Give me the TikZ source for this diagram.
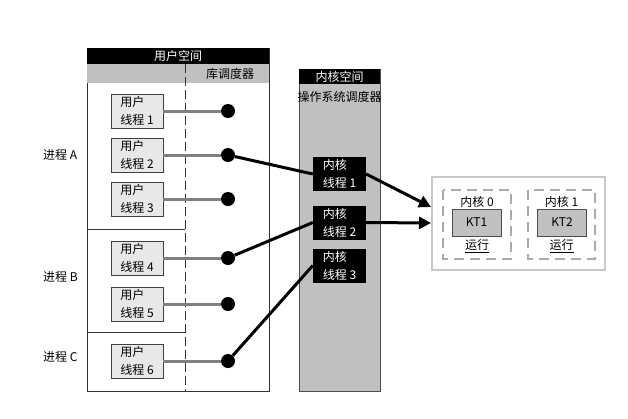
\documentclass[tikz,border=0pt]{standalone}
\usepackage{fontspec}
\newfontfamily\cjk{Noto Sans CJK SC}
\usetikzlibrary{arrows.meta}
\definecolor{panelgray}{RGB}{192,192,192}
\definecolor{boxgray}{RGB}{232,232,232}
\definecolor{linkgray}{RGB}{128,128,128}
\definecolor{framegray}{RGB}{200,200,200}
\tikzset{
    txt/.style={font=\cjk\fontsize{12}{18}\selectfont, inner sep=0pt},
    uthread/.style={txt, draw=black!75, fill=boxgray, minimum width=52pt, minimum height=34pt, align=left},
    kthread/.style={txt, fill=black, text=white, minimum width=53pt, minimum height=34pt, align=left},
    kt/.style={txt, draw=black!70, fill=panelgray, minimum width=49pt, minimum height=27pt},
    joint/.style={circle, fill=black, minimum size=14pt, inner sep=0pt},
    ulink/.style={linkgray, line width=3pt},
    klink/.style={black, line width=3pt},
    karrow/.style={black, line width=3pt, -{Triangle[length=12pt,width=12pt]}},
}
\begin{document}
\begin{tikzpicture}[x=1pt,y=-1pt]
    \useasboundingbox (0,0) rectangle (628,418);
    \draw[black!80] (87,48) rectangle (269,391);
    \fill[black] (87,48) rectangle (269,64);
    \fill[panelgray] (87,64) rectangle (269,83);
    \node[txt, text=white] (uspace) at (178,56) {用户空间};
    \node[txt] (libsched) at (230,73.5) {库调度器};
    \draw[black!80, dash pattern=on 9pt off 4pt] (185,64) -- (185,391);
    \draw[black!80] (87,229) -- (185,229);
    \draw[black!80] (87,332) -- (185,332);
    \node[txt, anchor=west] (pa) at (43,155) {进程 A};
    \node[txt, anchor=west] (pb) at (43,277) {进程 B};
    \node[txt, anchor=west] (pc) at (43,357) {进程 C};
    \node[uthread] (ut1) at (137,111) {用户\\线程 1};
    \node[uthread] (ut2) at (137,155) {用户\\线程 2};
    \node[uthread] (ut3) at (137,199) {用户\\线程 3};
    \node[uthread] (ut4) at (137,258) {用户\\线程 4};
    \node[uthread] (ut5) at (137,304) {用户\\线程 5};
    \node[uthread] (ut6) at (137,361) {用户\\线程 6};
    \node[joint] (j1) at (228,111) {};
    \node[joint] (j2) at (228,155) {};
    \node[joint] (j3) at (228,199) {};
    \node[joint] (j4) at (228,258) {};
    \node[joint] (j5) at (228,304) {};
    \node[joint] (j6) at (228,361) {};
    \filldraw[fill=panelgray, draw=black!70] (299,69) rectangle (380,391);
    \fill[black] (299,69) rectangle (380,84);
    \node[txt, text=white] (kspace) at (339.5,76.5) {内核空间};
    \node[txt] (ossched) at (339.5,97) {操作系统调度器};
    \node[kthread] (kth1) at (339.5,174) {内核\\线程 1};
    \node[kthread] (kth2) at (339.5,222.5) {内核\\线程 2};
    \node[kthread] (kth3) at (339.5,265.5) {内核\\线程 3};
    \draw[framegray, line width=1.5pt] (432,177) rectangle (605,270);
    \draw[framegray!85!black, line width=2pt, dash pattern=on 10pt off 6pt] (443,190) rectangle (511,259);
    \draw[framegray!85!black, line width=2pt, dash pattern=on 10pt off 6pt] (528,190) rectangle (595,259);
    \node[txt] (core0) at (477,202) {内核 0};
    \node[txt] (core1) at (561.5,202) {内核 1};
    \node[kt] (kt1) at (476.5,222.5) {KT1};
    \node[kt] (kt2) at (562,222.5) {KT2};
    \node[txt] (run0) at (477,246) {\underline{运行}};
    \node[txt] (run1) at (561.5,246) {\underline{运行}};
    \coordinate (cpuin1) at (431,207);
    \coordinate (cpuin2) at (431,223);
    \draw[ulink] (ut1.east) -- (j1);
    \draw[ulink] (ut2.east) -- (j2);
    \draw[ulink] (ut3.east) -- (j3);
    \draw[ulink] (ut4.east) -- (j4);
    \draw[ulink] (ut5.east) -- (j5);
    \draw[ulink] (ut6.east) -- (j6);
    \draw[klink] (j2) -- (kth1.west);
    \draw[klink] (j4) -- (kth2.west);
    \draw[klink] (j6) -- (kth3.west);
    \draw[karrow] (kth1.east) -- (cpuin1);
    \draw[karrow] (kth2.east) -- (cpuin2);
\end{tikzpicture}
\end{document}
